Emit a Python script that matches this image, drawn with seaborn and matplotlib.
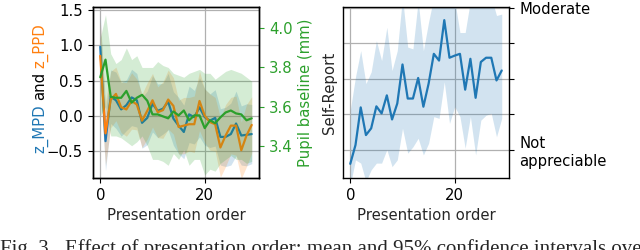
import matplotlib
matplotlib.use("Agg")
import matplotlib.pyplot as plt
import numpy as np
import pandas as pd
import seaborn as sns

# ---------------- data ----------------
order = list(range(30))

mpd = [0.98, -0.36, 0.27, 0.22, 0.09, 0.15, 0.26, 0.22, -0.10, -0.03,
       0.17, 0.07, 0.10, 0.20, -0.04, -0.14, -0.23, 0.02, -0.02, 0.12,
       -0.02, -0.07, -0.03, -0.30, -0.30, -0.26, -0.11, -0.28, -0.27, -0.26]
mpd_err = [0.45, 0.42, 0.38, 0.40, 0.38, 0.36, 0.40, 0.38, 0.36, 0.38,
           0.40, 0.38, 0.36, 0.40, 0.38, 0.40, 0.38, 0.40, 0.38, 0.42,
           0.40, 0.38, 0.40, 0.40, 0.42, 0.44, 0.46, 0.42, 0.44, 0.42]

ppd = [0.85, -0.25, 0.23, 0.31, 0.12, 0.09, 0.21, 0.16, -0.07, 0.07,
       0.22, 0.05, 0.08, 0.23, 0.14, -0.16, -0.14, -0.12, -0.12, 0.21,
       0.00, -0.09, -0.12, -0.45, -0.28, -0.14, -0.14, -0.49, -0.28, -0.13]
ppd_err = [0.50, 0.45, 0.40, 0.38, 0.36, 0.38, 0.40, 0.36, 0.38, 0.40,
           0.38, 0.36, 0.40, 0.42, 0.40, 0.38, 0.40, 0.38, 0.40, 0.42,
           0.38, 0.40, 0.38, 0.42, 0.44, 0.40, 0.42, 0.40, 0.44, 0.40]

pupil = [3.75, 3.84, 3.65, 3.645, 3.645, 3.68, 3.62, 3.645, 3.66, 3.63,
         3.56, 3.56, 3.55, 3.54, 3.575, 3.555, 3.58, 3.53, 3.555, 3.555,
         3.49, 3.53, 3.515, 3.545, 3.57, 3.58, 3.565, 3.56, 3.53, 3.54]
pupil_hi = [3.95, 4.07, 3.87, 3.82, 3.84, 3.90, 3.84, 3.86, 3.80, 3.80,
            3.80, 3.83, 3.81, 3.80, 3.77, 3.76, 3.75, 3.77, 3.78, 3.79,
            3.77, 3.77, 3.74, 3.76, 3.78, 3.79, 3.78, 3.77, 3.75, 3.73]
pupil_lo = [3.55, 3.60, 3.45, 3.45, 3.44, 3.42, 3.40, 3.42, 3.45, 3.40,
            3.33, 3.33, 3.32, 3.30, 3.36, 3.33, 3.38, 3.30, 3.33, 3.33,
            3.25, 3.28, 3.27, 3.31, 3.33, 3.35, 3.33, 3.33, 3.31, 3.32]

self_report = [-0.40, 0.13, 1.19, 0.41, 0.60, 1.22, 1.02, 1.53, 0.85, 1.30,
               2.40, 1.44, 1.44, 2.02, 1.21, 1.86, 2.70, 2.51, 3.65, 2.59,
               2.65, 2.70, 1.69, 2.56, 1.46, 2.47, 2.59, 2.59, 1.95, 2.23]
sr_hi = [1.11, 2.05, 2.79, 1.86, 2.19, 3.07, 2.51, 3.45, 2.23, 2.79,
         4.30, 2.89, 2.84, 4.20, 2.79, 3.60, 4.30, 4.30, 4.80, 4.20,
         4.20, 3.30, 3.30, 4.20, 4.00, 4.30, 4.20, 4.30, 3.78, 3.82]
sr_lo = [-1.00, -0.29, -0.38, -0.90, -0.57, -0.38, -0.38, 0.00, -0.48, -0.29,
         0.60, -0.10, 0.08, 0.32, -0.15, 0.18, 0.93, 0.88, 1.91, 0.74,
         1.21, 0.93, 0.04, 0.93, -0.15, 0.83, 0.97, 1.02, 0.36, 0.88]

sr_ticks = [0, 1, 2, 3, 4]
sr_labels = ["Not\nappreciable", "", "", "", "Moderate"]
caption_a = "Fig. 3."
caption_b = "Effect of presentation order: mean and 95% confidence intervals over"

# ---------------- style ----------------
sns.set_style("ticks")
plt.rcParams.update({
    "font.family": ["DejaVu Sans"],
    "font.size": 10.7,
    "axes.linewidth": 1.0,
    "axes.edgecolor": "black",
    "xtick.color": "black",
    "ytick.color": "black",
    "grid.color": "#b0b0b0",
    "grid.linewidth": 0.9,
})
BLUE, ORANGE, GREEN = "#1f77b4", "#ff7f0e", "#2ca02c"

df = pd.DataFrame({
    "order": order, "mpd": mpd, "ppd": ppd, "pupil": pupil,
    "sr": self_report,
})
mpd_a, mpd_e = np.array(mpd), np.array(mpd_err)
ppd_a, ppd_e = np.array(ppd), np.array(ppd_err)

W, H = 640, 250
def rect(l, t, r, b):
    return [l / W, 1 - b / H, (r - l) / W, (b - t) / H]

fig = plt.figure(figsize=(6.4, 2.5), dpi=100)
ax1 = fig.add_axes(rect(92.7, 7, 259.3, 178))
ax2 = ax1.twinx()
ax3 = fig.add_axes(rect(342.7, 7, 509.3, 178))

# ---- left panel ----
ax1.fill_between(order, mpd_a - mpd_e, mpd_a + mpd_e, color=BLUE, alpha=0.2, lw=0)
sns.lineplot(data=df, x="order", y="mpd", ax=ax1, color=BLUE, lw=1.6)
ax1.fill_between(order, ppd_a - ppd_e, ppd_a + ppd_e, color=ORANGE, alpha=0.2, lw=0)
sns.lineplot(data=df, x="order", y="ppd", ax=ax1, color=ORANGE, lw=1.6)
ax2.fill_between(order, pupil_lo, pupil_hi, color=GREEN, alpha=0.2, lw=0)
sns.lineplot(data=df, x="order", y="pupil", ax=ax2, color=GREEN, lw=1.6)

ax1.set_xlim(-1.45, 30.45)
ax1.set_ylim(-0.883, 1.543)
ax1.set_yticks([-0.5, 0.0, 0.5, 1.0, 1.5])
ax1.set_xticks([0, 20])
ax1.grid(True)
ax1.set_xlabel("Presentation order")
ax1.set_ylabel("")
ax2.set_ylim(3.235, 4.109)
ax2.set_yticks([3.4, 3.6, 3.8, 4.0])
ax2.tick_params(axis="y", colors=GREEN)
ax2.spines["right"].set_color("black")
ax2.set_ylabel("Pupil baseline (mm)", color=GREEN)
for ax in (ax1, ax2):
    for s in ax.spines.values():
        s.set_visible(True)

# multi-coloured y-label
fig.text(40 / W, 1 - 153 / H, "z_MPD", rotation=90, ha="center", va="bottom", color=BLUE)
fig.text(40 / W, 1 - 100 / H, "and", rotation=90, ha="center", va="bottom", color="black")
fig.text(40 / W, 1 - 68 / H, "z_PPD", rotation=90, ha="center", va="bottom", color=ORANGE)

# ---- right panel ----
ax3.fill_between(order, sr_lo, sr_hi, color=BLUE, alpha=0.2, lw=0)
sns.lineplot(data=df, x="order", y="sr", ax=ax3, color=BLUE, lw=1.6)
ax3.set_xlim(-1.45, 30.45)
ax3.set_ylim(-0.80, 4.02)
ax3.set_xticks([0, 20])
ax3.set_yticks(sr_ticks)
ax3.set_yticklabels(sr_labels)
ax3.yaxis.tick_right()
ax3.yaxis.set_label_position("left")
ax3.set_ylabel("Self-Report")
ax3.set_xlabel("Presentation order")
ax3.grid(True)
for s in ax3.spines.values():
    s.set_visible(True)

# ---- caption (cut off at the bottom edge, as in the reference) ----
fig.text(0 / W, -4 / H, caption_a, family="Liberation Serif", fontsize=15,
         ha="left", va="baseline")
fig.text(65 / W, -4 / H, caption_b, family="Liberation Serif", fontsize=15,
         ha="left", va="baseline")

fig.savefig("out.png", dpi=100)
